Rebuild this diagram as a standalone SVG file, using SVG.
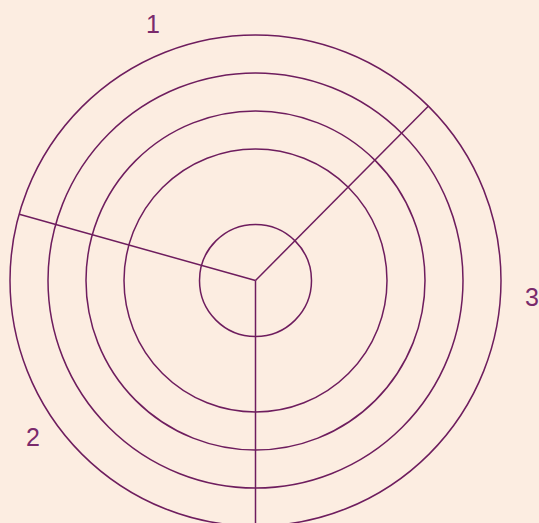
<svg xmlns="http://www.w3.org/2000/svg" width="539" height="523" viewBox="0 0 539 523">
<style>
.ring{fill:none;stroke:#6e1d5e;stroke-width:1.5}
.spoke{fill:none;stroke:#6e1d5e;stroke-width:1.5}
.lbl{font-family:"Liberation Sans",Arial,sans-serif;font-size:25px;fill:#7a2a6c}
</style>
<rect width="539" height="523" fill="#fcede1"/>
<g id="rings">
<circle id="ring1" class="ring" cx="255.5" cy="280.5" r="245.5"/>
<circle id="ring2" class="ring" cx="255.5" cy="280.5" r="207.5"/>
<circle id="ring3" class="ring" cx="255.5" cy="280.5" r="169.5"/>
<circle id="ring4" class="ring" cx="255.5" cy="280.5" r="131.5"/>
<circle id="ring5" class="ring" cx="255.5" cy="280.5" r="56"/>
</g>
<g id="connectors">
<line class="spoke" x1="255.5" y1="280.5" x2="19.3" y2="214.3"/>
<line class="spoke" x1="255.5" y1="280.5" x2="428.5" y2="106"/>
<line class="spoke" x1="255.5" y1="280.5" x2="255.5" y2="523"/>
</g>
<g id="labels">
<text class="lbl" x="153" y="33" text-anchor="middle">1</text>
<text class="lbl" x="532" y="306" text-anchor="middle">3</text>
<text class="lbl" x="33" y="446" text-anchor="middle">2</text>
</g>
</svg>
